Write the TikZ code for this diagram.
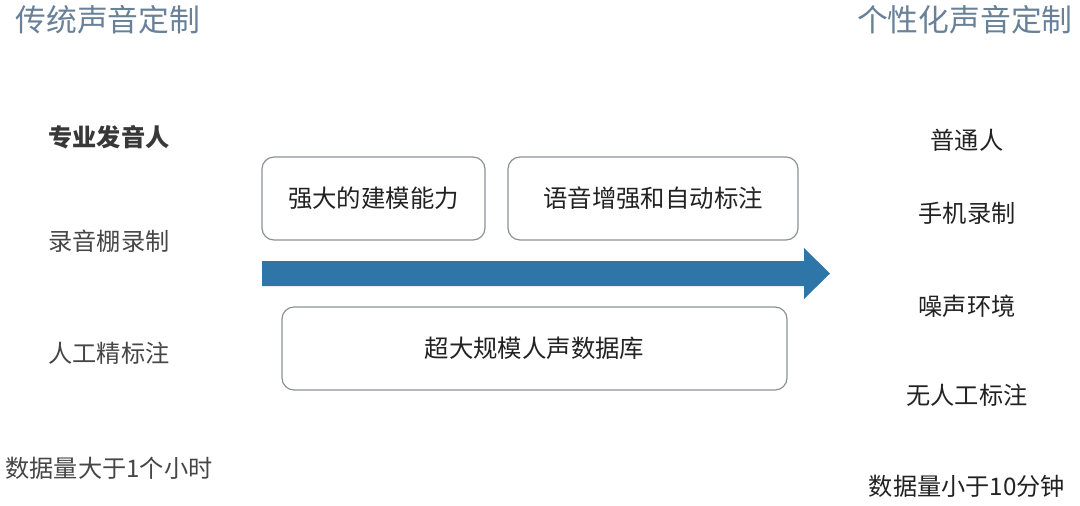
\documentclass[tikz,border=0pt]{standalone}
\usepackage{fontspec}
\usepackage{xcolor}
\usepackage{tikz}
\usetikzlibrary{calc}
\setmainfont{Noto Sans CJK SC}
\definecolor{title-blue}{RGB}{104, 128, 152}
\definecolor{arrow-blue}{RGB}{46, 117, 168}
\definecolor{box-grey}{RGB}{140, 144, 150}
\definecolor{text-grey}{RGB}{70, 70, 70}
\definecolor{text-dark}{RGB}{34, 34, 34}

\begin{document}
\begin{tikzpicture}[x = 0.5pt, y = -0.5pt,
    title/.style = {font=\fontsize{15.4}{18}\selectfont, text=title-blue, inner sep=0pt},
    oldway/.style = {font=\fontsize{12.1}{14}\selectfont, text=text-grey, inner sep=0pt, anchor=west},
    newway/.style = {font=\fontsize{12.1}{14}\selectfont, text=text-dark, inner sep=0pt},
    keybox/.style = {draw=box-grey, line width=0.6pt, rounded corners=6pt, inner sep=0pt,
                     font=\fontsize{12.2}{14}\selectfont, text=text-dark}]
          \useasboundingbox (0, 0) rectangle (1080, 505);

          \node[title, anchor=west] (oldtitle) at (15, 20) {传统声音定制};
          \node[title, anchor=east] (newtitle) at (1073, 20) {个性化声音定制};

          \node[oldway, font=\fontsize{12.1}{14}\selectfont\bfseries, text=text-dark!90] (speaker) at (48, 137) {专业发音人};
          \node[oldway] (studio) at (48, 241) {录音棚录制};
          \node[oldway] (manual) at (48, 353) {人工精标注};
          \node[oldway] (hour) at (5, 468) {数据量大于1个小时};

          \node[newway] (anyone) at (967, 140) {普通人};
          \node[newway] (phone) at (967, 213) {手机录制};
          \node[newway] (noisy) at (967, 306) {噪声环境};
          \node[newway] (nolabel) at (967, 395) {无人工标注};
          \node[newway] (minutes) at (967, 486) {数据量小于10分钟};

          \node[keybox, minimum width=111.5pt, minimum height=41.5pt] (model) at (373.5, 198.5) {强大的建模能力};
          \node[keybox, minimum width=145pt, minimum height=41.5pt] (enhance) at (653, 198.5) {语音增强和自动标注};
          \node[keybox, minimum width=252.5pt, minimum height=41.5pt] (corpus) at (534.5, 348.5) {超大规模人声数据库};

          \coordinate (tail) at (262, 273.5);
          \coordinate (tip) at (830, 273.5);
          \fill[arrow-blue] ($(tail) + (0, -12.5)$) -- (804, 261) -- (804, 248)
            -- (tip) -- (804, 299) -- (804, 286) -- ($(tail) + (0, 12.5)$) -- cycle;

        \end{tikzpicture}
\end{document}
